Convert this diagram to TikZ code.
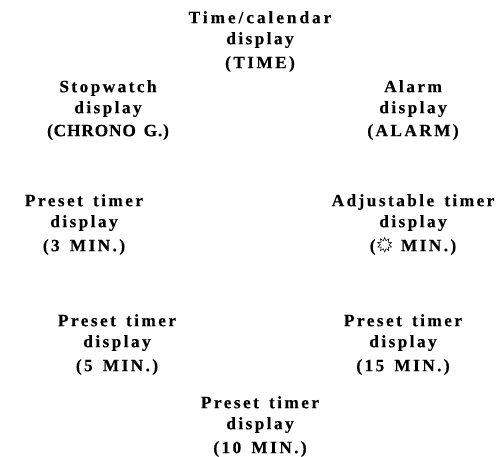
\documentclass[tikz,border=0pt]{standalone}
\usepackage{fontspec}
\setmainfont{Liberation Serif}[WordSpace=1.5]
\usetikzlibrary{shapes.geometric}
\tikzset{lab/.style={align=center,font=\fontsize{17.3}{21}\selectfont\bfseries\addfontfeatures{LetterSpace=14,FakeBold=0.25},inner sep=0pt,anchor=north},
burst/.style={star,star points=10,star point ratio=1.7,draw,line width=.55pt,inner sep=0pt,minimum size=14.5pt}}
\newcommand{\burstmark}{\kern2pt\tikz[baseline=1.5pt]\node[burst,anchor=south] {};\kern-1pt}
\begin{document}
\begin{tikzpicture}[x=1pt,y=-1pt]
\useasboundingbox (0,0) rectangle (498,457);
\node[lab] (time) at (260,11) {{\addfontfeatures{LetterSpace=17}Time/calendar}\\display\\[3pt](TIME)};
\node[lab] (stop) at (108,80) {Stopwatch\\display\\[2pt]{\addfontfeatures{LetterSpace=5}(CHRONO G.)}};
\node[lab] (alarm) at (413,80) {Alarm\\display\\[2pt](ALARM)};
\node[lab] (p3) at (84,194) {Preset timer\\display\\[3pt](3 MIN.)};
\node[lab] (adj) at (413,194) {Adjustable timer\\display\\[3pt](\burstmark\ MIN.)};
\node[lab] (p5) at (117,314) {Preset timer\\display\\[3pt](5 MIN.)};
\node[lab] (p15) at (403,314) {Preset timer\\display\\[3pt](15 MIN.)};
\node[lab] (p10) at (260,396) {Preset timer\\display\\[3pt](10 MIN.)};
\end{tikzpicture}
\end{document}
